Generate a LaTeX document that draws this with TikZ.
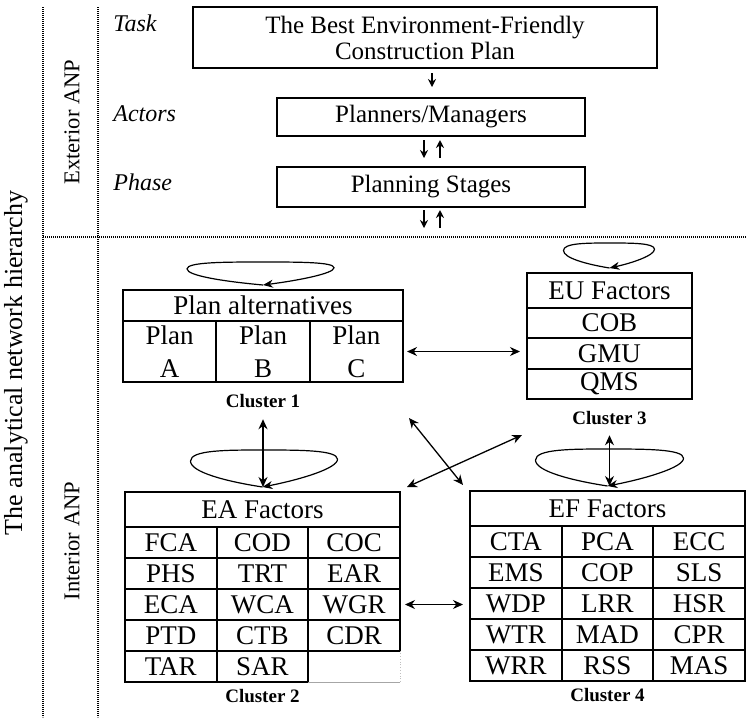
\documentclass[tikz,border=0pt]{standalone}
\usepackage{fontspec}
\setmainfont{Liberation Serif}
\usetikzlibrary{positioning, calc, arrows.meta}

\newcommand\boxfont{\fontsize{12.5}{13}\selectfont}
\newcommand\cellfont{\fontsize{13.5}{16.5}\selectfont}
\newcommand\sidefont{\fontsize{12}{14}\selectfont\itshape}
\newcommand\partfont{\fontsize{11.3}{13}\selectfont}
\newcommand\titlefont{\fontsize{13}{15}\selectfont}
\newcommand\clusterfont{\fontsize{9.5}{11}\selectfont\bfseries}

\tikzset{
  topbox/.style={draw, line width=0.75pt, inner sep=0pt, outer sep=0pt, font=\boxfont},
  hdr/.style={draw, line width=0.9pt, inner sep=0pt, outer sep=0pt, minimum height=17.5pt, font=\cellfont},
  cell/.style={draw, line width=0.9pt, inner sep=0pt, outer sep=0pt, minimum width=45.83pt, minimum height=15.5pt, font=\cellfont},
  eucell/.style={cell, minimum width=82.5pt, minimum height=15.17pt},
  plancell/.style={cell, minimum width=46.67pt, minimum height=30.5pt, align=center},
  clabel/.style={inner sep=1pt, font=\clusterfont},
  sidelab/.style={inner sep=0pt, anchor=west, font=\sidefont},
  partlab/.style={rotate=90, font=\partfont},
  divider/.style={dash pattern=on 0.4pt off 0.6pt, line width=0.6pt},
  arr/.style={-{Stealth[length=4pt,width=4pt]}, line width=0.9pt},
  dbl/.style={{Stealth[length=5pt,width=4.5pt]}-{Stealth[length=5pt,width=4.5pt]}, line width=0.65pt},
  selfloop/.style={-{Stealth[length=5pt,width=4pt]}, line width=0.6pt}
}

\begin{document}
\begin{tikzpicture}[x=0.5pt, y=-0.5pt]
        \useasboundingbox (0,0) rectangle (746,719);
        \draw[divider] (43,7) -- (43,717);
        \draw[divider] (98,7) -- (98,717);
        \draw[divider] (43,237) -- (746,237);
        \node[rotate=90, font=\titlefont] (title) at (16,363) {The analytical network hierarchy};
        \node[partlab] (ext) at (72,122) {Exterior ANP};
        \node[partlab] (int) at (72,541) {Interior ANP};
        %---------------------------
        \node[sidelab] (task) at (113,23) {Task};
        \node[sidelab] (actors) at (113,114) {Actors};
        \node[sidelab] (phase) at (113,182) {Phase};
        \node[topbox, minimum width=232pt, minimum height=30.5pt, align=center] (goal) at (425,37.5) {The Best Environment-Friendly\\Construction Plan};
        \node[topbox, minimum width=154pt, minimum height=19pt, below=15pt of goal, xshift=3pt] (planner) {Planners/Managers};
        \node[topbox, minimum width=154pt, minimum height=20pt, below=15.5pt of planner] (stage) {Planning Stages};
        \coordinate (inner) at (431,237);
        \draw[arr] ([xshift=3.5pt,yshift=-2.5pt]goal.south) -- ([xshift=0.5pt,yshift=5.5pt]planner.north);
        \draw[arr] ([xshift=-3.5pt,yshift=-2pt]planner.south) -- ([xshift=-3.5pt,yshift=4.5pt]stage.north);
        \draw[arr] ([xshift=4.5pt,yshift=4.5pt]stage.north) -- ([xshift=4.5pt,yshift=-2pt]planner.south);
        \draw[arr] ([xshift=-3.5pt,yshift=-1.5pt]stage.south) -- ([xshift=-3.5pt,yshift=4.5pt]inner);
        \draw[arr] ([xshift=4.5pt,yshift=4.5pt]inner) -- ([xshift=4.5pt,yshift=-1.5pt]stage.south);
        %---------------------------
        \node[hdr, minimum width=140pt, minimum height=15.5pt] (pa) at (263,305.5) {Plan alternatives};
        \node[plancell, below right=0pt and 0pt of pa.south west] (plana) {Plan\\A};
        \node[plancell, right=0pt of plana] (planb) {Plan\\B};
        \node[plancell, right=0pt of planb] (planc) {Plan\\C};
        \node[clabel, below=5pt of planb] (c1) {Cluster 1};
        %---------------------------
        \node[hdr, minimum width=82.5pt] (eu) at (609.5,290.5) {EU Factors};
        \node[eucell, below=0pt of eu] (cob) {COB};
        \node[eucell, below=0pt of cob] (gmu) {GMU};
        \node[eucell, below=0pt of gmu] (qms) {QMS};
        \node[clabel, below=5pt of qms] (c3) {Cluster 3};
        %---------------------------
        \node[hdr, minimum width=137.5pt] (ea) at (262.5,509.5) {EA Factors};
        \node[cell, below right=0pt and 0pt of ea.south west] (fca) {FCA};
        \node[cell, right=0pt of fca] (cod) {COD};
        \node[cell, right=0pt of cod] (coc) {COC};
        \node[cell, below=0pt of fca] (phs) {PHS};
        \node[cell, right=0pt of phs] (trt) {TRT};
        \node[cell, right=0pt of trt] (ear) {EAR};
        \node[cell, below=0pt of phs] (eca) {ECA};
        \node[cell, right=0pt of eca] (wca) {WCA};
        \node[cell, right=0pt of wca] (wgr) {WGR};
        \node[cell, below=0pt of eca] (ptd) {PTD};
        \node[cell, right=0pt of ptd] (ctb) {CTB};
        \node[cell, right=0pt of ctb] (cdr) {CDR};
        \node[cell, below=0pt of ptd] (tar) {TAR};
        \node[cell, right=0pt of tar] (sar) {SAR};
        \node[cell, draw=none, right=0pt of sar] (blank) {};
        \draw[gray!70, line width=0.4pt] (blank.south west) -- (blank.south east);
        \draw[gray!50, densely dotted, line width=0.4pt] (blank.south east) -- (blank.north east);
        \node[clabel, below=2.5pt of sar] (c2) {Cluster 2};
        %---------------------------
        \node[hdr, minimum width=137.5pt] (ef) at (607.5,508.5) {EF Factors};
        \node[cell, below right=0pt and 0pt of ef.south west] (cta) {CTA};
        \node[cell, right=0pt of cta] (pca) {PCA};
        \node[cell, right=0pt of pca] (ecc) {ECC};
        \node[cell, below=0pt of cta] (ems) {EMS};
        \node[cell, right=0pt of ems] (cop) {COP};
        \node[cell, right=0pt of cop] (sls) {SLS};
        \node[cell, below=0pt of ems] (wdp) {WDP};
        \node[cell, right=0pt of wdp] (lrr) {LRR};
        \node[cell, right=0pt of lrr] (hsr) {HSR};
        \node[cell, below=0pt of wdp] (wtr) {WTR};
        \node[cell, right=0pt of wtr] (mad) {MAD};
        \node[cell, right=0pt of mad] (cpr) {CPR};
        \node[cell, below=0pt of wtr] (wrr) {WRR};
        \node[cell, right=0pt of wrr] (rss) {RSS};
        \node[cell, right=0pt of rss] (mas) {MAS};
        \node[clabel, below=2.5pt of rss] (c4) {Cluster 4};
        %---------------------------
        \foreach \t/\lx/\rx/\hy in {pa/76/71/23, eu/46/45/25, ea/72/75/37, ef/72/76/37}
          \draw[selfloop] ([yshift=2.5pt]\t.north) coordinate (tip)
            .. controls +(-0.5*\lx,-0.15*\hy) and +(0,0.3*\hy) .. ++(-\lx,-0.7*\hy)
            .. controls +(0,-0.3*\hy) and +(-0.5*\lx,0) .. ++(\lx,-0.3*\hy)
            .. controls +(0.5*\rx,0) and +(0,-0.25*\hy) .. ++(\rx,0.25*\hy)
            .. controls +(0,0.25*\hy) and +(0.5*\rx,-0.2*\hy) .. (tip);
        \draw[dbl] ([xshift=2pt]planc.east) -- ($(planc.east -| gmu.west)+(-7,0)$);
        \draw[dbl] ([xshift=2.5pt]wgr.east) -- ($(wgr.east -| wdp.west)+(-7,0)$);
        \draw[dbl] ($(c1.south)+(0,9)$) -- ($(c1.south |- ea.north)+(0,-5)$);
        \draw[dbl] ($(c3.south)+(0,8)$) -- ($(c3.south |- ef.north)+(0,-5)$);
        \draw[dbl] ($(planc.south east)+(6,36)$) -- ($(ef.north west)+(-7,-6)$);
        \draw[dbl] ($(ea.north east)+(7,-5)$) -- ($(qms.south west)+(-5,36)$);
\end{tikzpicture}
\end{document}
